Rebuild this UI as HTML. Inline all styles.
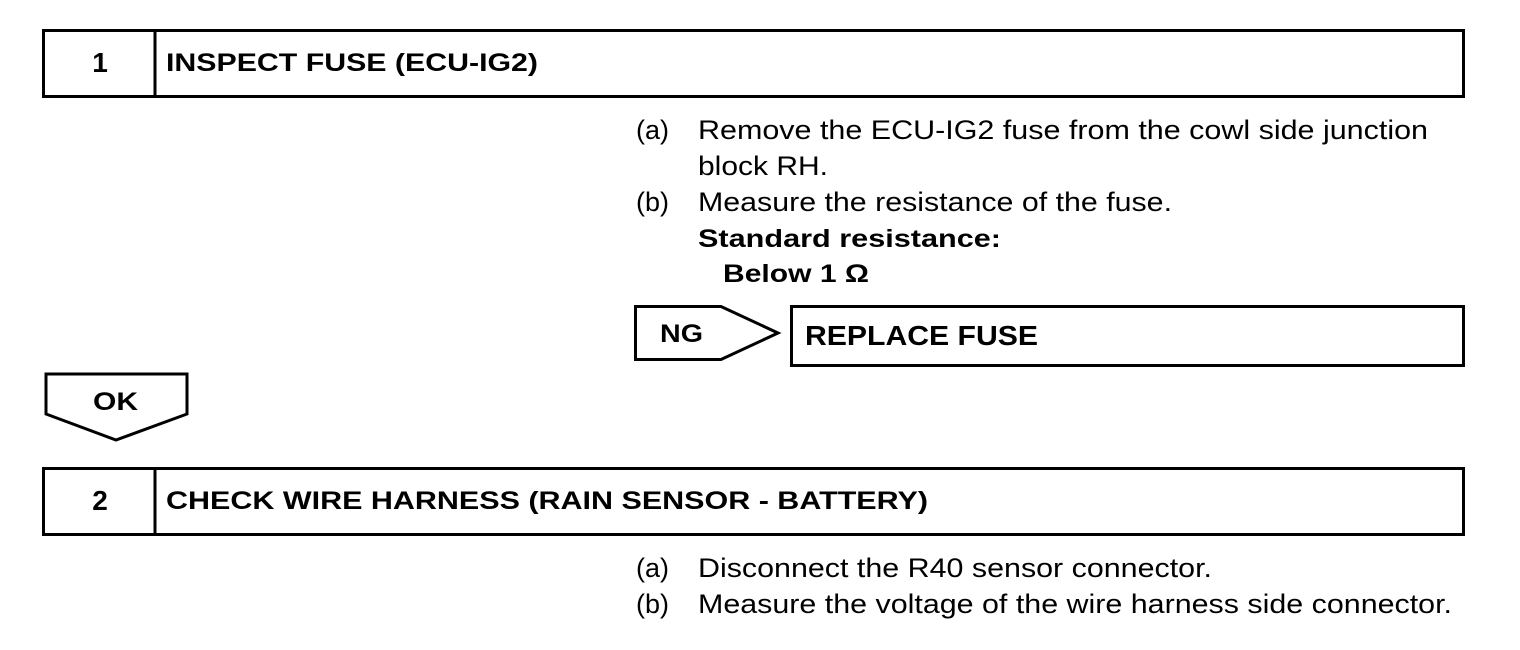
<!DOCTYPE html>
<html><head><style>html,body{margin:0;padding:0;background:#fff}svg{display:block}</style></head>
<body>
<svg width="1520" height="650" xmlns="http://www.w3.org/2000/svg" font-family="Liberation Sans, Arial, sans-serif">
<g fill="none" stroke="#000" stroke-width="3">
<rect x="43.5" y="30.5" width="1420" height="66"/>
<line x1="155" y1="30" x2="155" y2="97"/>
<rect x="43.5" y="468.5" width="1420" height="66"/>
<line x1="155" y1="468" x2="155" y2="535"/>
<polygon points="635.5,306.5 721,306.5 778,333 721,359.5 635.5,359.5"/>
<rect x="791.5" y="306.5" width="672" height="59"/>
<polygon points="46,374 187,374 187,414 116,440 46,414"/>
</g>
<g fill="#000" font-weight="bold" font-size="25">
<text x="100" y="72" text-anchor="middle" font-size="28">1</text>
<text x="166" y="71" textLength="372" lengthAdjust="spacingAndGlyphs">INSPECT FUSE (ECU-IG2)</text>
<text x="100" y="510" text-anchor="middle" font-size="28">2</text>
<text x="166" y="509" textLength="762" lengthAdjust="spacingAndGlyphs">CHECK WIRE HARNESS (RAIN SENSOR - BATTERY)</text>
<text x="660" y="342" textLength="43" lengthAdjust="spacingAndGlyphs">NG</text>
<text x="805" y="345" font-size="28" textLength="233" lengthAdjust="spacingAndGlyphs">REPLACE FUSE</text>
<text x="93" y="410" textLength="45" lengthAdjust="spacingAndGlyphs">OK</text>
<text x="698" y="247" textLength="303" lengthAdjust="spacingAndGlyphs">Standard resistance:</text>
<text x="723" y="282" textLength="146" lengthAdjust="spacingAndGlyphs">Below 1 Ω</text>
</g>
<g fill="#000" font-size="27">
<text x="636" y="139">(a)</text>
<text x="698" y="139" textLength="730" lengthAdjust="spacingAndGlyphs">Remove the ECU-IG2 fuse from the cowl side junction</text>
<text x="698" y="175" textLength="130" lengthAdjust="spacingAndGlyphs">block RH.</text>
<text x="636" y="211">(b)</text>
<text x="698" y="211" textLength="474" lengthAdjust="spacingAndGlyphs">Measure the resistance of the fuse.</text>
<text x="636" y="577">(a)</text>
<text x="698" y="577" textLength="514" lengthAdjust="spacingAndGlyphs">Disconnect the R40 sensor connector.</text>
<text x="636" y="613">(b)</text>
<text x="698" y="613" textLength="754" lengthAdjust="spacingAndGlyphs">Measure the voltage of the wire harness side connector.</text>
</g>
</svg>
</body></html>
